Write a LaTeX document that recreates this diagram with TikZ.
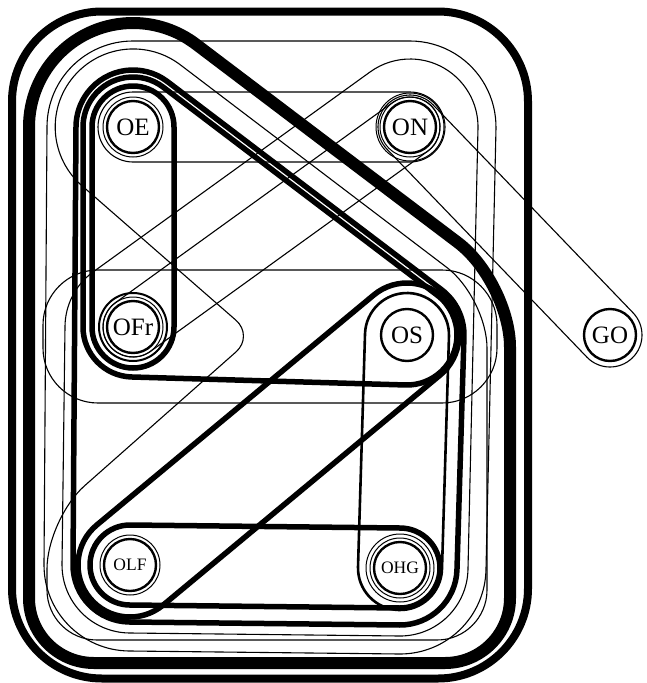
\documentclass[tikz,border=0pt]{standalone}
\usepackage{fontspec}
\setmainfont{Liberation Serif}
\usetikzlibrary{calc}
% convex hull of node centres, offset by a radius; triplets prev/cur/next, counter-clockwise on screen
\newcommand\hull[3][]{%
  \draw[#1] \foreach \pa/\pb/\pc in {#3} {
    let \p1=(\pa), \p2=(\pb), \p3=(\pc),
        \n1={atan2((\y2)-(\y1),(\x2)-(\x1))-90},
        \n2={atan2((\y3)-(\y2),(\x3)-(\x2))-90},
        \n3={(\n1)+mod((\n2)-(\n1)+720,360)}
    in ($(\pb)+(\n1:#2)$) arc[start angle=\n1, end angle=\n3, radius=#2] -- ($(\pc)+(\n2:#2)$)
  };}
\begin{document}
\begin{tikzpicture}[x=1pt,y=-1pt,line join=round,line cap=round]
\tikzset{
  thinhull/.style={line width=1.1pt},
  medhull/.style={line width=2.6pt},
  thickhull/.style={line width=5.5pt},
  ringline/.style={line width=1pt},
  nd/.style={circle,draw,line width=2.4pt,fill=white,minimum size=52pt,inner sep=0pt,font=\fontsize{25}{25}\selectfont},
  ndsmall/.style={nd,font=\fontsize{17.5}{17.5}\selectfont}
}
\fill[white] (0,0) rectangle (646,683);
\useasboundingbox (0,0) rectangle (646,683);
\coordinate (pOE) at (133,127);
\coordinate (pON) at (410,127);
\coordinate (pOFr) at (133,327);
\coordinate (pOS) at (407,335);
\coordinate (pGO) at (610,335);
\coordinate (pOLF) at (130,565);
\coordinate (pOHG) at (400,568);

% outermost rounded rectangle
\draw[line width=8pt,rounded corners=90pt] (12,11.5) rectangle (528,678.5);
% big thick outline
\draw[line width=12pt] (29,127) arc[start angle=180,end angle=52.8,radius=104pt]
  [rounded corners=65pt] -- (510,282) -- (510,663) -- (29,663) -- (29,127);

% thin outlines
\hull[thinhull]{86pt}{pON/pOE/pOLF,pOE/pOLF/pOHG,pOLF/pOHG/pON,pOHG/pON/pOE}
\hull[thinhull]{68pt}{pOHG/pON/pOFr,pON/pOFr/pOLF,pOFr/pOLF/pOHG,pOLF/pOHG/pON}
\draw[thinhull] (80,184) arc[start angle=227,end angle=52.8,radius=78pt]
  [rounded corners=50pt] -- (487,298) -- (487,640) -- (47,640) -- (47,519) [rounded corners=24pt] -- (254,336) -- (80,184);
\draw[thinhull,rounded corners=55pt] (43,270) rectangle (497,403);
\hull[thinhull]{32pt}{pGO/pON/pGO,pON/pGO/pON}
\hull[thinhull]{35pt}{pON/pOE/pON,pOE/pON/pOE}
\hull[thinhull]{30pt}{pOFr/pON/pOFr,pON/pOFr/pON}

% thick outlines
\hull[thickhull]{41pt}{pOFr/pOE/pOFr,pOE/pOFr/pOE}
\hull[thickhull]{40pt}{pOHG/pOLF/pOHG,pOLF/pOHG/pOLF}
\hull[thickhull]{52pt}{pOS/pOLF/pOS,pOLF/pOS/pOLF}
\hull[thickhull]{50pt}{pOS/pOE/pOFr,pOE/pOFr/pOS,pOFr/pOS/pOE}
\hull[thickhull]{57pt}{pOS/pOE/pOLF,pOE/pOLF/pOHG,pOLF/pOHG/pOS,pOHG/pOS/pOE}
\hull[medhull]{42pt}{pOHG/pOS/pOHG,pOS/pOHG/pOS}

% rings close to the nodes
\draw[ringline] (pOE) circle[radius=30pt];
\draw[ringline] (pON) circle[radius=30pt];
\draw[ringline] (pON) circle[radius=34pt];
\draw[ringline] (pOFr) circle[radius=30pt];
\draw[line width=2pt] (pOFr) circle[radius=34pt];
\draw[ringline] (pOLF) circle[radius=30pt];
\draw[ringline] (pOHG) circle[radius=30pt];
\draw[ringline] (pOHG) circle[radius=34pt];

% nodes
\node[nd] (OE) at (pOE) {OE};
\node[nd] (ON) at (pON) {ON};
\node[nd] (OFr) at (pOFr) {OFr};
\node[nd] (OS) at (pOS) {OS};
\node[nd] (GO) at (pGO) {GO};
\node[ndsmall] (OLF) at (pOLF) {OLF};
\node[ndsmall] (OHG) at (pOHG) {OHG};
\end{tikzpicture}
\end{document}
